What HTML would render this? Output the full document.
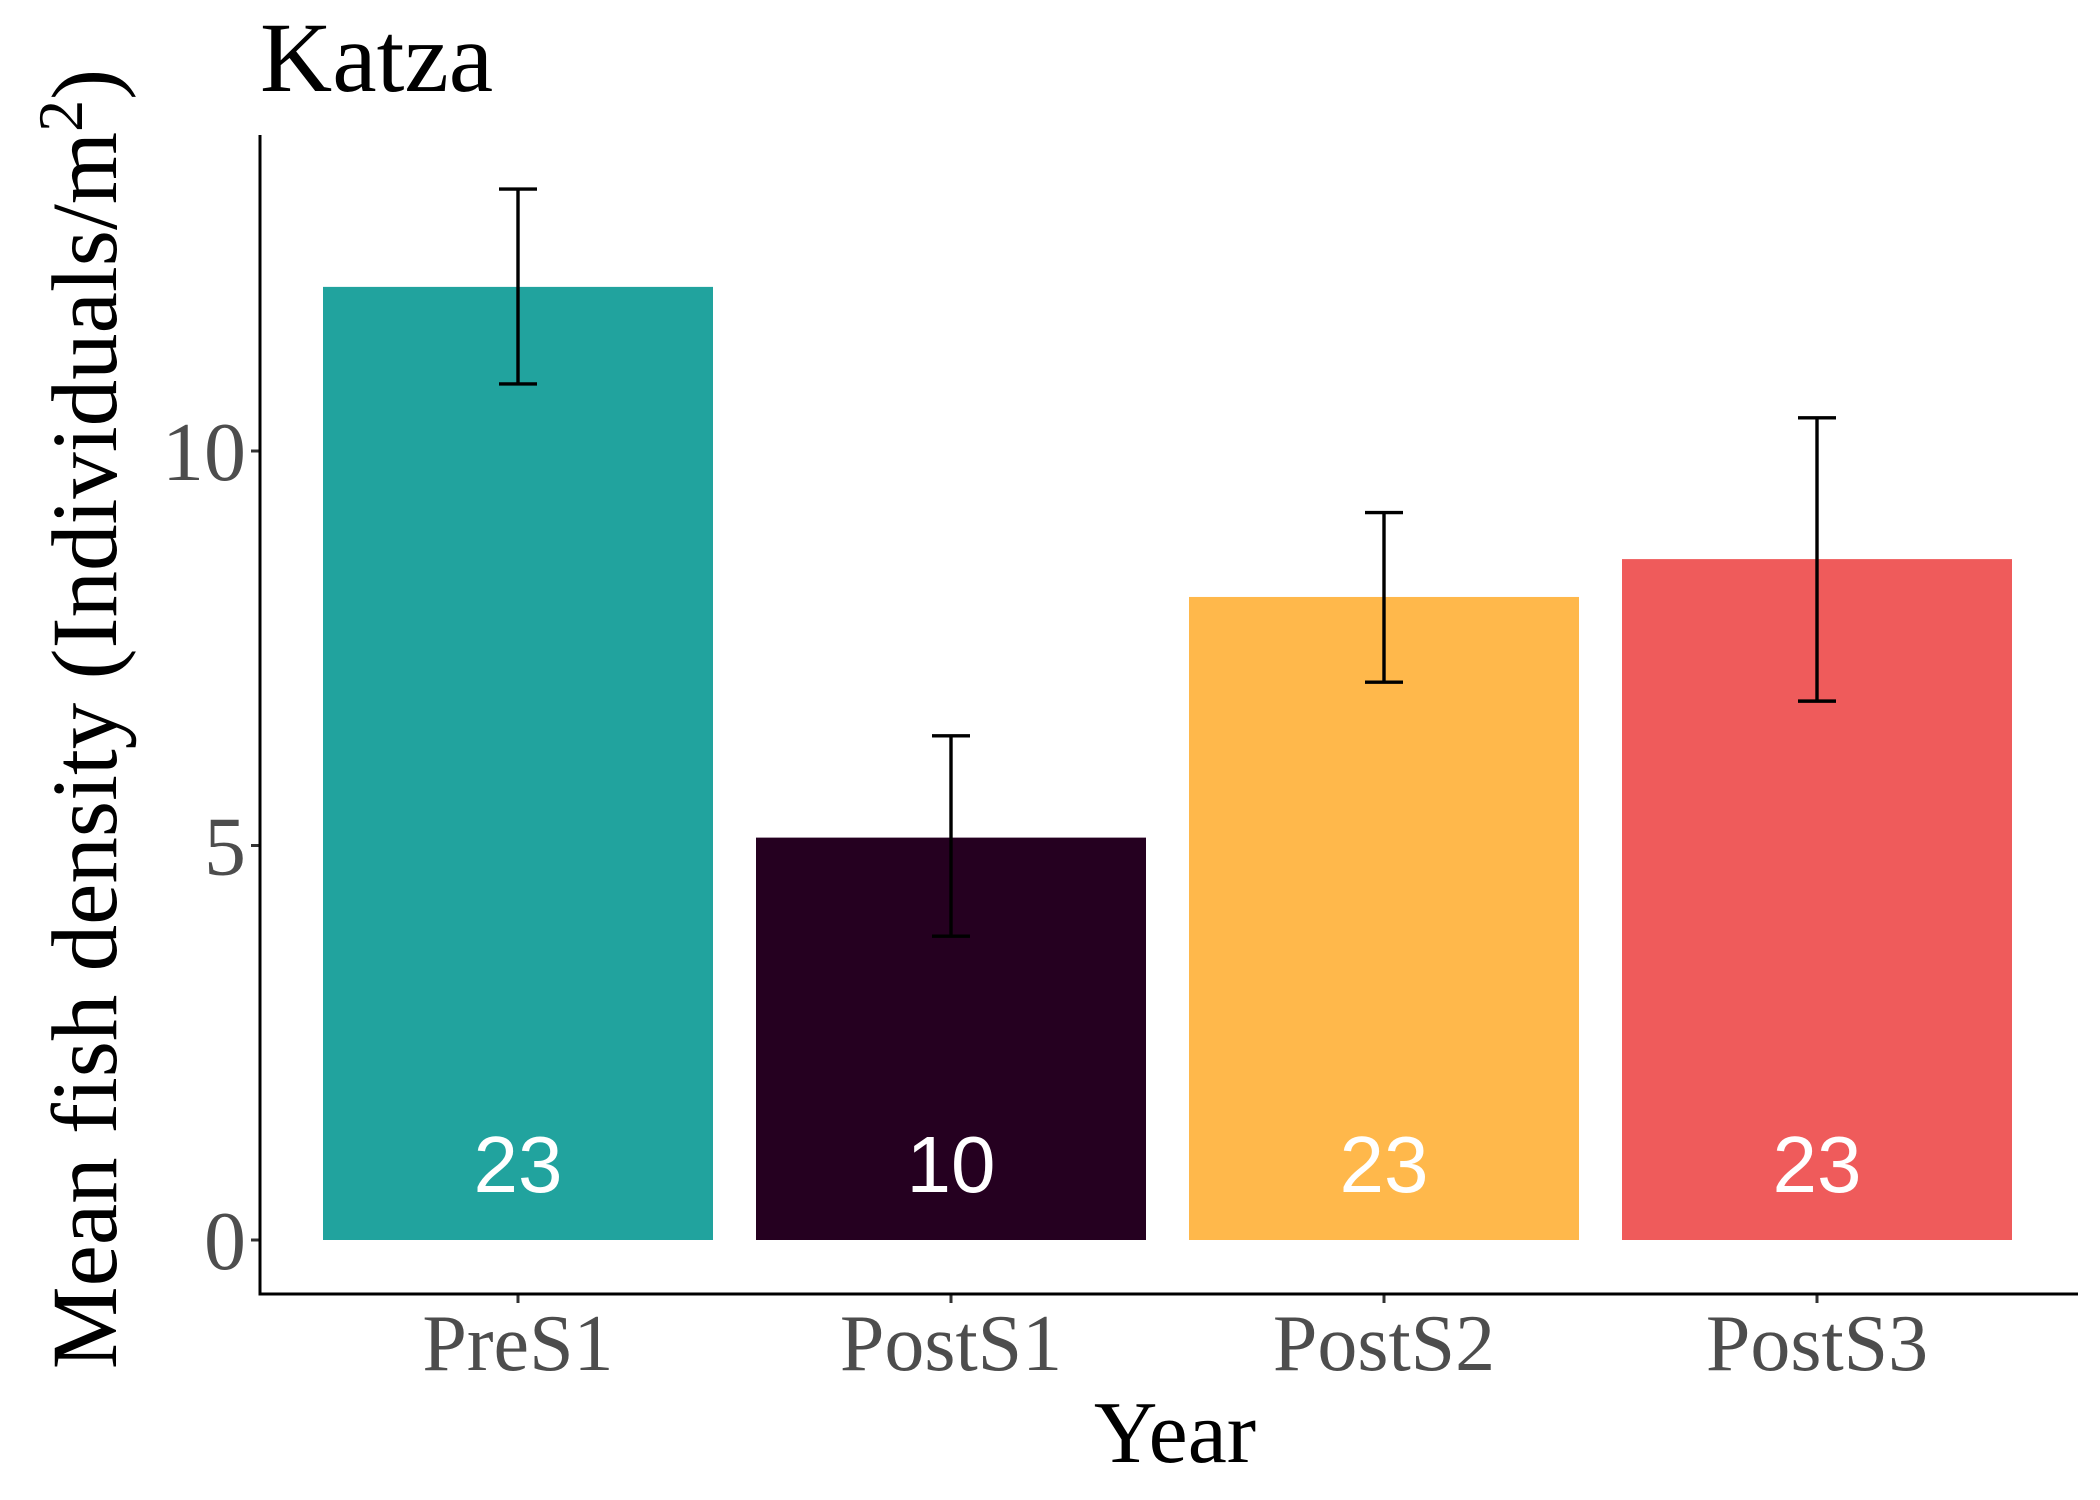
<!DOCTYPE html>
<html><head><meta charset="utf-8"><style>
html,body{margin:0;padding:0;background:#fff;}
svg{display:block;}
</style></head><body>
<svg id="chart" width="2100" height="1500" viewBox="0 0 2100 1500" xmlns="http://www.w3.org/2000/svg">
<text x="260" y="91" font-family="Liberation Serif, serif" font-size="100" fill="#000">Katza</text>
<g id="plot"></g>
<text x="1175" y="1462" text-anchor="middle" font-family="Liberation Serif, serif" font-size="88" fill="#000">Year</text>
<text transform="translate(116,719) rotate(-90)" text-anchor="middle" font-family="Liberation Serif, serif" font-size="93" fill="#000">Mean fish density (Individuals/m<tspan dy="-34" font-size="64">2</tspan><tspan dy="34">)</tspan></text>
</svg>
<script>
const categories = ["PreS1","PostS1","PostS2","PostS3"];
const means = [12.08, 5.10, 8.15, 8.63];
const errLow = [10.85, 3.85, 7.07, 6.83];
const errHigh = [13.32, 6.39, 9.22, 10.42];
const counts = ["23","10","23","23"];
const colors = ["#21a39e","#250020","#ffb84b","#ef5b5b"];
const yTicks = [0, 5, 10];

const NS = "http://www.w3.org/2000/svg";
const plot = document.getElementById('plot');
const x0 = 260, xEnd = 2078, yTop = 135, yAxisBottom = 1294;
const y = v => 1240 - v * 78.9;
const step = 433, first = 518, barW = 390;
const xc = i => first + i * step;

function mk(tag, attrs){ const e = document.createElementNS(NS, tag); for (const k in attrs) e.setAttribute(k, attrs[k]); plot.appendChild(e); return e; }

categories.forEach((c, i) => {
  const r = mk('rect', {x: xc(i) - barW/2, y: y(means[i]), width: barW, height: y(0) - y(means[i]), fill: colors[i]});
  
  
  const g = mk('g', {stroke: '#000', 'stroke-width': 3.4, fill: 'none'});
  
  
  [[xc(i), y(errLow[i]), xc(i), y(errHigh[i])],
   [xc(i)-19, y(errLow[i]), xc(i)+19, y(errLow[i])],
   [xc(i)-19, y(errHigh[i]), xc(i)+19, y(errHigh[i])]].forEach(p => {
    const l = document.createElementNS(NS, 'line');
    l.setAttribute('x1', p[0]); l.setAttribute('y1', p[1]); l.setAttribute('x2', p[2]); l.setAttribute('y2', p[3]);
    g.appendChild(l);
  });
  const t = mk('text', {x: xc(i), y: 1192, 'text-anchor': 'middle', 'font-family': 'Liberation Sans, sans-serif', 'font-size': 80, fill: '#fff'});
  t.textContent = counts[i];
  
  
  const tk = mk('line', {x1: xc(i), y1: yAxisBottom, x2: xc(i), y2: yAxisBottom + 9, stroke: '#333', 'stroke-width': 3});
  
  
  const tl = mk('text', {x: xc(i), y: 1370, 'text-anchor': 'middle', 'font-family': 'Liberation Serif, serif', 'font-size': 80, fill: '#4d4d4d'});
  tl.textContent = c;
  
  
});

yTicks.forEach(v => {
  const tk = mk('line', {x1: x0 - 9, y1: y(v), x2: x0, y2: y(v), stroke: '#333', 'stroke-width': 3});
  
  
  const tl = mk('text', {x: x0 - 14, y: y(v) + 29, 'text-anchor': 'end', 'font-family': 'Liberation Serif, serif', 'font-size': 84, fill: '#4d4d4d'});
  tl.textContent = v;
  
  
});

const ya = mk('line', {x1: x0, y1: yTop, x2: x0, y2: yAxisBottom + 1.5, stroke: '#000', 'stroke-width': 3});


const xa = mk('line', {x1: x0 - 1.5, y1: yAxisBottom, x2: xEnd, y2: yAxisBottom, stroke: '#000', 'stroke-width': 3});


</script>
</body></html>
